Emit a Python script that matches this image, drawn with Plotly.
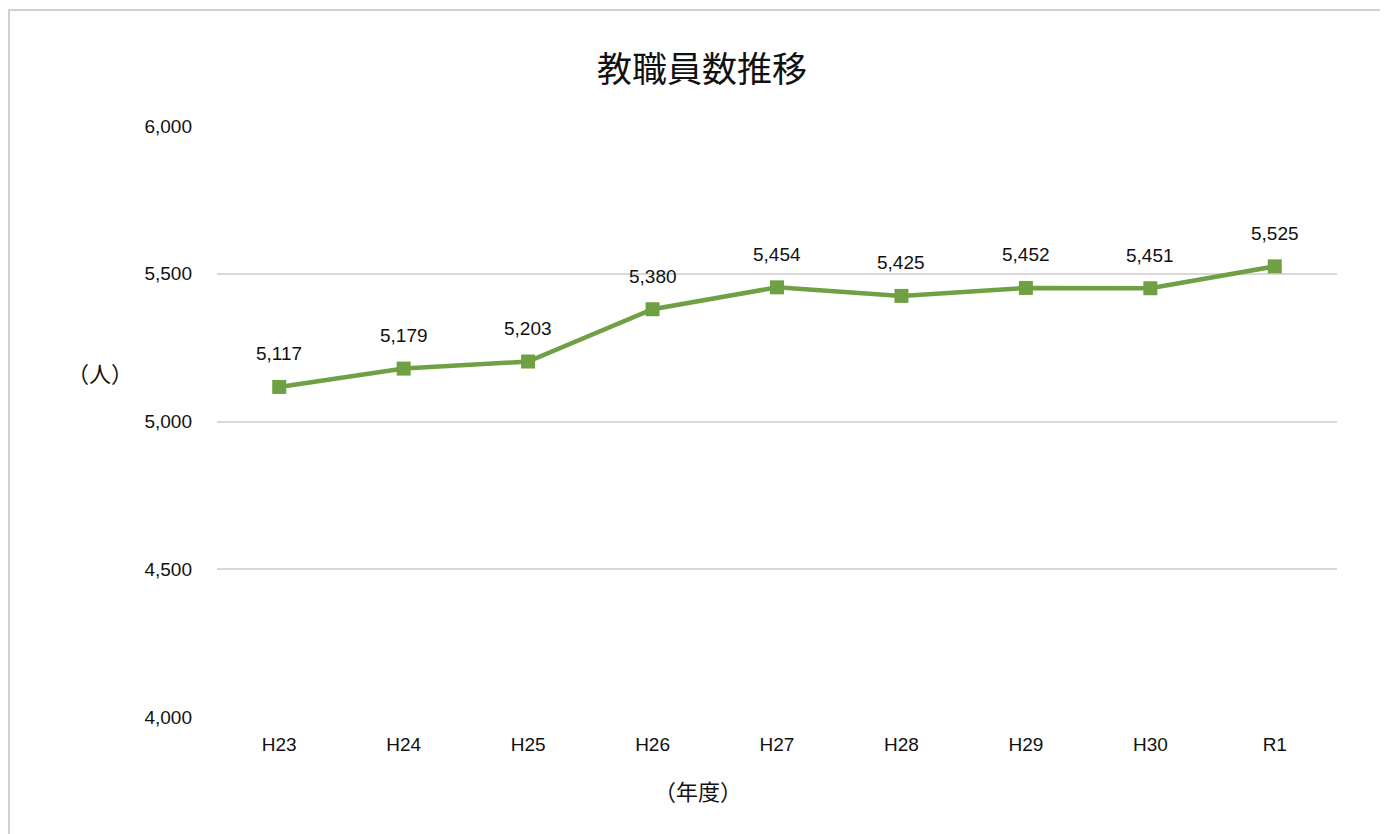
import plotly.graph_objects as go

years = ["H23", "H24", "H25", "H26", "H27", "H28", "H29", "H30", "R1"]
staff = [5117, 5179, 5203, 5380, 5454, 5425, 5452, 5451, 5525]
y_ticks = [4000, 4500, 5000, 5500, 6000]

NUM_FONT = "Liberation Sans, Arial, sans-serif"
CJK_FONT = "Noto Sans CJK JP"
GREEN = "#70a044"

# page has 8px body margin; compensate so the plot lands where the reference has it
OFF = 8
L, R, T, B = 217 - OFF, 1388 - (1337 - OFF), 126 - OFF, 834 - (717 - OFF)
PW, PH = 1120, 591

fig = go.Figure()
fig.add_trace(go.Scatter(
    x=years, y=staff, mode="lines+markers",
    line=dict(color=GREEN, width=4.5),
    marker=dict(symbol="square", size=14, color=GREEN),
    hoverinfo="skip", showlegend=False,
))

for xv, yv in zip(years, staff):
    fig.add_annotation(x=xv, y=yv, text=f"{yv:,}", showarrow=False,
                       yshift=33, font=dict(family=NUM_FONT, size=19, color="#111111"))

fig.add_annotation(xref="paper", yref="paper", x=(100 - 217) / PW, y=(717 - 372) / PH,
                   xanchor="center", yanchor="middle",
                   text="（人）", showarrow=False, font=dict(family=CJK_FONT, size=22, color="#111111"))
fig.add_annotation(xref="paper", yref="paper", x=(698 - 217) / PW, y=(717 - 790) / PH,
                   xanchor="center", yanchor="middle",
                   text="（年度）", showarrow=False, font=dict(family=CJK_FONT, size=22, color="#111111"))

fig.add_shape(type="rect", xref="paper", yref="paper",
              x0=(9 - 217) / PW, x1=1.2, y0=-0.4, y1=(717 - 10) / PH,
              line=dict(color="#d0d0d0", width=2), fillcolor="rgba(0,0,0,0)", layer="below")

fig.update_layout(
    width=1388, height=834,
    margin=dict(l=L, r=R, t=T, b=B),
    paper_bgcolor="white", plot_bgcolor="white",
    title=dict(text="教職員数推移", x=(702 - OFF) / 1388, xanchor="center", y=1 - (70 - OFF) / 834,
               yanchor="middle", font=dict(family=CJK_FONT, size=35, color="#111111")),
    font=dict(family=NUM_FONT, size=19, color="#111111"),
    xaxis=dict(range=[-0.5, 8.5], showgrid=False, showline=False, ticks="",
               ticklabelstandoff=14, tickfont=dict(family=NUM_FONT, size=19), fixedrange=True),
    yaxis=dict(range=[4000, 6000], tickvals=y_ticks, tickformat=",", showgrid=True,
               gridcolor="#d9d9d9", gridwidth=2, zeroline=False, showline=False,
               ticks="", ticklabelstandoff=24, tickfont=dict(family=NUM_FONT, size=19), fixedrange=True),
)

fig.write_html("out.html")
